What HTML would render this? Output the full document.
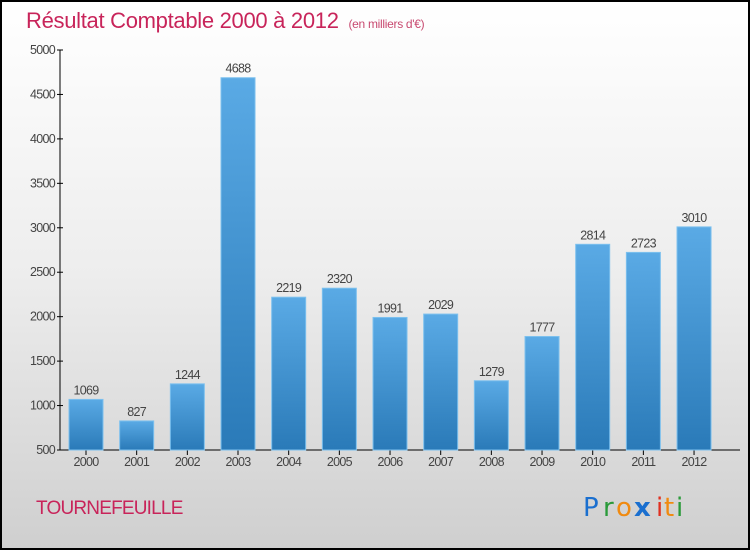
<!DOCTYPE html>
<html><head><meta charset="utf-8"><style>
body{margin:0}
svg{display:block;font-family:"Liberation Sans",sans-serif}
</style></head><body>
<svg width="750" height="550" xmlns="http://www.w3.org/2000/svg">
<defs>
<linearGradient id="bg" x1="0" y1="0" x2="0" y2="1"><stop offset="0" stop-color="#ffffff"/><stop offset="0.5" stop-color="#ededed"/><stop offset="1" stop-color="#cfcfcf"/></linearGradient>
<linearGradient id="bar" x1="0" y1="0" x2="0" y2="1"><stop offset="0" stop-color="#5aaae5"/><stop offset="1" stop-color="#2a7ab8"/></linearGradient>
</defs>
<rect x="1" y="1" width="748" height="548" fill="url(#bg)" stroke="#000" stroke-width="2"/>
<text x="26" y="28" font-size="22" fill="#c8245a" letter-spacing="-0.3">Résultat Comptable 2000 à 2012 <tspan font-size="12" dx="4" fill="#c84a70">(en milliers d'€)</tspan></text>
<g id="axes"></g>
<g id="bars"></g>
<text x="36" y="514" font-size="19" fill="#c8245a" letter-spacing="-0.8">TOURNEFEUILLE</text>
<g font-family="DejaVu Sans, sans-serif" font-size="26">
<text x="583" y="516" fill="#1a6fcf">P</text><text x="603" y="516" fill="#2a9a3a">r</text><text x="616" y="516" fill="#f08a10">o</text><text x="634" y="516" fill="#1a6fcf" font-weight="bold">x</text><text x="656" y="516" fill="#e03020">i</text><text x="664" y="516" fill="#f08a10">t</text><text x="676" y="516" fill="#2a9a3a">i</text>
</g>
</svg>
<script>
const categories=["2000","2001","2002","2003","2004","2005","2006","2007","2008","2009","2010","2011","2012"];
const values=[1069,827,1244,4688,2219,2320,1991,2029,1279,1777,2814,2723,3010];
const yTicks=[500,1000,1500,2000,2500,3000,3500,4000,4500,5000];
const NS="http://www.w3.org/2000/svg";
const y=v=>450-(v-500)/4500*400;
const x=i=>86+i*50.67;
function mk(t,a,p,txt){const e=document.createElementNS(NS,t);for(const k in a)e.setAttribute(k,a[k]);if(txt!==undefined)e.textContent=txt;p.appendChild(e);return e;}
const ax=document.getElementById('axes'),bg=document.getElementById('bars');
let l=mk('line',{x1:60,y1:50,x2:60,y2:450,stroke:'#000'},ax);


l=mk('line',{x1:60,y1:450,x2:740,y2:450,stroke:'#000'},ax);


yTicks.forEach(v=>{
 mk('line',{x1:57,x2:63,y1:y(v),y2:y(v),stroke:'#000'},ax);
 const t=mk('text',{x:55,y:y(v)+4,'text-anchor':'end','font-size':12.5,fill:'#444','letter-spacing':'-0.7'},ax,v);
 
 
});
categories.forEach((c,i)=>{
 const cx=x(i);
 mk('line',{x1:cx,x2:cx,y1:450,y2:455,stroke:'#000'},ax);
 const t=mk('text',{x:cx,y:466,'text-anchor':'middle','font-size':12.5,fill:'#444','letter-spacing':'-0.7'},ax,c);
 
 
 const r=mk('rect',{x:cx-17,y:y(values[i]),width:34,height:450-y(values[i]),fill:'url(#bar)',stroke:'#7cc0ee','stroke-width':1},bg);
 
 
 const vl=mk('text',{x:cx,y:y(values[i])-5,'text-anchor':'middle','font-size':12.5,fill:'#444','letter-spacing':'-0.7'},bg,values[i]);
 
 
});
</script>
</body></html>
